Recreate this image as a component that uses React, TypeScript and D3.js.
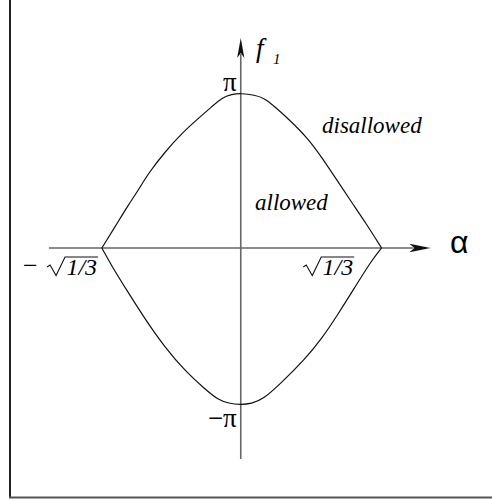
import React from 'react';
import * as d3 from 'd3';

// values (alpha, f1 in radians)
const upperAlpha = [-0.577, -0.522, -0.467, -0.425, -0.384, -0.314, -0.245, -0.176, -0.12, -0.079, -0.037, 0,
  0.058, 0.1, 0.141, 0.196, 0.279, 0.335, 0.404, 0.459, 0.516, 0.585];
const upperF1 = [0, 0.433, 0.874, 1.179, 1.519, 1.958, 2.332, 2.637, 2.873, 3.056, 3.125, 3.146,
  3.111, 3.044, 2.873, 2.637, 2.231, 1.856, 1.348, 0.941, 0.535, 0];

const lowerAlpha = [-0.577, -0.536, -0.467, -0.397, -0.314, -0.231, -0.148, -0.093, -0.051, 0,
  0.044, 0.093, 0.169, 0.266, 0.335, 0.404, 0.473, 0.542, 0.585];
const lowerF1 = [0, -0.366, -0.909, -1.45, -2.028, -2.501, -2.873, -3.091, -3.158, -3.186,
  -3.166, -3.076, -2.739, -2.263, -1.856, -1.348, -0.807, -0.264, 0];

const xTickValues = [-Math.sqrt(1 / 3), Math.sqrt(1 / 3)];
const yTickValues = [Math.PI, -Math.PI];
const yTickLabels = ['π', '−π'];

const xAxisExtent = [-0.797, 0.788];
const yAxisExtent = [-4.29, 4.27];

const W = 492, H = 502;
const serif = '"Liberation Serif", "Times New Roman", serif';
const sans = '"Liberation Sans", Arial, sans-serif';
const axisColor = '#666';

export default function App() {
  const x = d3.scaleLinear().domain([-1, 1]).range([0, 481.5]);
  const y = d3.scaleLinear().domain([-Math.PI, Math.PI]).range([402.5, 93.5]);

  const line = d3.line<[number, number]>()
    .x(d => x(d[0]))
    .y(d => y(d[1]))
    .curve(d3.curveBasis);

  const upper = upperAlpha.map((a, i) => [a, upperF1[i]] as [number, number]);
  const lower = lowerAlpha.map((a, i) => [a, lowerF1[i]] as [number, number]);

  const x0 = x(0), y0 = y(0);
  const xEnd = x(xAxisExtent[1]);
  const yTop = y(yAxisExtent[1]);

  // arrowheads with a slightly notched back
  const hArrow = `M${xEnd},${y0} L${xEnd - 21},${y0 - 4.3} L${xEnd - 16},${y0} L${xEnd - 21},${y0 + 4.3} Z`;
  const vArrow = `M${x0},${yTop} L${x0 - 3.6},${yTop + 20} L${x0},${yTop + 15} L${x0 + 3.6},${yTop + 20} Z`;

  const radical = (r: number) =>
    `M${r - 50},${267} L${r - 47},${265} L${r - 41},${275.5} L${r - 32},${257} L${r + 1},${257}`;

  const leftR = x(xTickValues[0]) - 4.7;
  const rightR = x(xTickValues[1]) - 26.5;

  return (
    <svg width={W} height={H} style={{ position: 'absolute', left: 0, top: 0, background: '#fff' }}>
      {/* frame */}
      <line x1={10} y1={0} x2={10} y2={498} stroke="#222" strokeWidth={2} />
      <line x1={9} y1={497.5} x2={W} y2={497.5} stroke="#555" strokeWidth={2} />

      {/* axes */}
      <line x1={x(xAxisExtent[0])} y1={y0} x2={xEnd - 17} y2={y0} stroke={axisColor} strokeWidth={1.6} />
      <line x1={x0} y1={y(yAxisExtent[0])} x2={x0} y2={yTop + 16} stroke={axisColor} strokeWidth={1.6} />
      <path d={hArrow} fill="#111" />
      <path d={vArrow} fill="#111" />

      {/* boundary curves */}
      <path d={line(upper) ?? ''} fill="none" stroke="#111" strokeWidth={1.2} />
      <path d={line(lower) ?? ''} fill="none" stroke="#111" strokeWidth={1.2} />

      {/* y tick labels */}
      {yTickValues.map((v, i) => (
        <text key={i} x={x0 - 4} y={v > 0 ? y(v) - 2.5 : y(v) + 24.5} textAnchor="end"
          fontFamily={serif} fontSize={27}>{yTickLabels[i]}</text>
      ))}

      {/* x tick labels: -sqrt(1/3), sqrt(1/3) */}
      <text x={23} y={274} fontFamily={serif} fontSize={26}>−</text>
      <path d={radical(leftR)} fill="none" stroke="#111" strokeWidth={1.1} />
      <text x={leftR} y={275} textAnchor="end" fontFamily={serif} fontStyle="italic" fontSize={24}>1/3</text>
      <path d={radical(rightR)} fill="none" stroke="#111" strokeWidth={1.1} />
      <text x={rightR} y={275} textAnchor="end" fontFamily={serif} fontStyle="italic" fontSize={24}>1/3</text>

      {/* axis titles */}
      <text x={450} y={253} fontFamily={sans} fontSize={32}>α</text>
      <text x={256} y={57} fontFamily={serif} fontStyle="italic" fontSize={27}>f</text>
      <text x={273} y={64} fontFamily={serif} fontStyle="italic" fontSize={15}>1</text>

      {/* region labels */}
      <text x={322} y={132.5} fontFamily={serif} fontStyle="italic" fontSize={23}>disallowed</text>
      <text x={255} y={210} fontFamily={serif} fontStyle="italic" fontSize={23}>allowed</text>
    </svg>
  );
}
